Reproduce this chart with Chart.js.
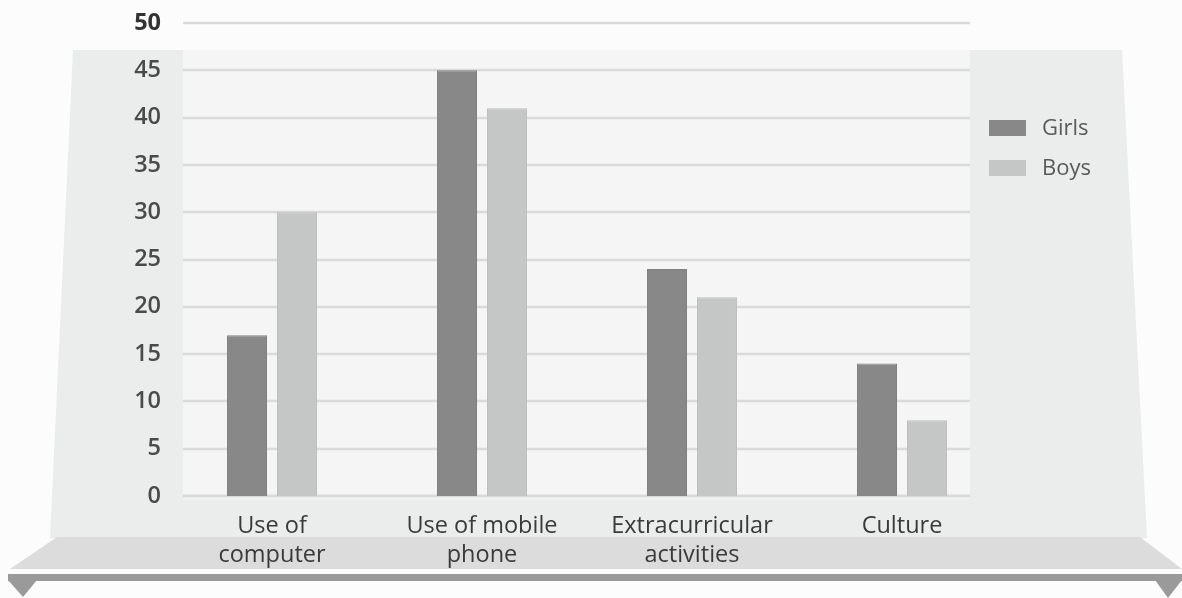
<!DOCTYPE html>
<html>
<head>
<meta charset="utf-8">
<script src="https://cdn.jsdelivr.net/npm/chart.js@4"></script>
<style>
  html, body { margin: 0; padding: 0; background: #fcfcfc; }
  canvas { display: block; }
</style>
</head>
<body>
<canvas id="timeChart" width="1182" height="598"></canvas>
<script>
const categories = [
    ["Use of", "computer"],
    ["Use of mobile", "phone"],
    ["Extracurricular", "activities"],
    ["Culture"]
];
const girlsValues = [17, 45, 24, 14];
const boysValues = [30, 41, 21, 8];
const seriesNames = ["Girls", "Boys"];
const seriesColors = ["#888888", "#c5c6c6"];

const isTop = c => !!(c && c.tick && c.tick.value === 50);

// background panels, gridlines and legend drawn by hand
const decoration = {
    id: "decoration",
    beforeDraw(chart) {
        const ctx = chart.ctx;
        const yScale = chart.scales.y;
        ctx.save();

        ctx.fillStyle = "#fcfcfc";
        ctx.fillRect(0, 0, chart.width, chart.height);

        // side panel
        ctx.fillStyle = "#ebecec";
        ctx.beginPath();
        ctx.moveTo(73, 50);
        ctx.lineTo(1122, 50);
        ctx.lineTo(1147, 538);
        ctx.lineTo(50, 538);
        ctx.closePath();
        ctx.fill();

        // plot background
        ctx.fillStyle = "#f5f5f5";
        ctx.fillRect(183, 50, 787, 449);

        // bottom band
        ctx.fillStyle = "#dcdcdc";
        ctx.beginPath();
        ctx.moveTo(57, 537);
        ctx.lineTo(1140, 537);
        ctx.lineTo(1182, 569);
        ctx.lineTo(10, 569);
        ctx.closePath();
        ctx.fill();

        // floor line with arrows
        ctx.fillStyle = "#9a9a9a";
        ctx.fillRect(8, 574, 1174, 7);
        ctx.beginPath();
        ctx.moveTo(8, 580);
        ctx.lineTo(37, 580);
        ctx.lineTo(23, 597);
        ctx.closePath();
        ctx.fill();
        ctx.beginPath();
        ctx.moveTo(1155, 580);
        ctx.lineTo(1182, 580);
        ctx.lineTo(1168, 598);
        ctx.closePath();
        ctx.fill();

        // gridlines
        ctx.strokeStyle = "#dadada";
        yScale.ticks.forEach(t => {
            const y = Math.round(yScale.getPixelForValue(t.value));
            ctx.lineWidth = t.value === 0 ? 3 : 2.5;
            ctx.beginPath();
            ctx.moveTo(183, y);
            ctx.lineTo(970, y);
            ctx.stroke();
        });
        ctx.restore();
    },
    afterDraw(chart) {
        const ctx = chart.ctx;
        ctx.save();
        ctx.font = "22px 'Open Sans'";
        ctx.textBaseline = "middle";
        chart.data.datasets.forEach((ds, i) => {
            const y = 120 + i * 40;
            ctx.fillStyle = ds.backgroundColor;
            ctx.fillRect(989, y, 37, 16);
            ctx.fillStyle = "#5a5a5a";
            ctx.fillText(ds.label, 1042, y + 9);
        });
        ctx.restore();
    }
};

new Chart(document.getElementById("timeChart"), {
    type: "bar",
    data: {
        labels: categories,
        datasets: [{
            label: seriesNames[0],
            data: girlsValues,
            backgroundColor: seriesColors[0],
            borderColor: "#808080",
            borderWidth: 1
        }, {
            label: seriesNames[1],
            data: boysValues,
            backgroundColor: seriesColors[1],
            borderColor: "#bdbebe",
            borderWidth: 1
        }]
    },
    options: {
        responsive: false,
        devicePixelRatio: 1,
        animation: false,
        layout: {
            padding: { top: 23, right: 175, bottom: 0, left: 0 }
        },
        datasets: {
            bar: {
                barPercentage: 0.8,
                categoryPercentage: 0.476
            }
        },
        plugins: {
            legend: { display: false },
            tooltip: { enabled: false }
        },
        scales: {
            x: {
                grid: { display: false, drawTicks: false },
                border: { display: false },
                afterFit: s => { s.height = 102; },
                ticks: {
                    padding: 16,
                    color: "#3a3a3a",
                    font: { family: "'Open Sans'", size: 23.5, lineHeight: 1.24 }
                }
            },
            y: {
                min: 0,
                max: 50,
                grid: { display: false, drawTicks: false },
                border: { display: false },
                afterFit: s => { s.width = 167; },
                ticks: {
                    stepSize: 5,
                    padding: 6,
                    color: c => isTop(c) ? "#333333" : "#4a4a4a",
                    font: c => ({
                        family: "'Open Sans'",
                        size: 23.5,
                        weight: isTop(c) ? "700" : "600"
                    })
                }
            }
        }
    },
    plugins: [decoration]
});
</script>
</body>
</html>
